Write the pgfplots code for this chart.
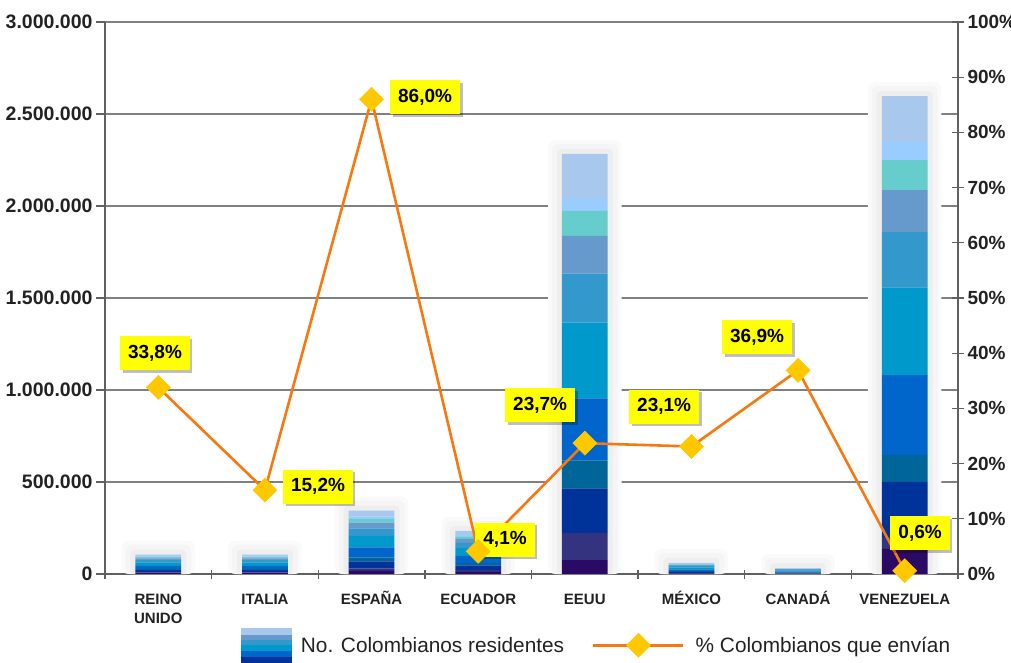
\documentclass[border=0pt]{standalone}
\usepackage{pgfplots}
\pgfplotsset{compat=1.18}
\usepackage{pgfplotstable}
\usepackage{fontspec}
\setmainfont{Liberation Sans}
\usetikzlibrary{shadows}
\definecolor{c1}{HTML}{2B0A66}
\definecolor{c2}{HTML}{33337F}
\definecolor{c3}{HTML}{003399}
\definecolor{c4}{HTML}{006699}
\definecolor{c5}{HTML}{0066CC}
\definecolor{c6}{HTML}{0099CC}
\definecolor{c7}{HTML}{3399CC}
\definecolor{c8}{HTML}{6699CC}
\definecolor{c9}{HTML}{66CCCC}
\definecolor{c10}{HTML}{99CCFF}
\definecolor{c11}{HTML}{A8C8EE}
\definecolor{gridc}{HTML}{808080}
\definecolor{axc}{HTML}{606060}
\definecolor{txtc}{HTML}{222222}
\definecolor{lineor}{HTML}{F7780F}
\definecolor{diam}{HTML}{FFC800}
\definecolor{labY}{HTML}{FFFF00}

\pgfplotstableread{
x c1 c2 c3 c4 c5 c6 c7 c8 c9 c10 c11 ga gb gc
0 5250 4200 11550 6300 16800 18900 12600 9450 6300 3675 9975 181000 159000 132000
1 5250 4200 11550 6300 16800 18900 12600 9450 6300 3675 9975 181000 159000 132000
2 17250 13800 37950 20700 55200 62100 41400 31050 20700 12075 32775 421000 399000 372000
3 11750 9400 25850 14100 37600 42300 28200 21150 14100 8225 22325 311000 289000 262000
4 76000 146000 244000 152000 336000 412000 266000 206000 136000 65000 244000 2359000 2337000 2310000
5 3000 2400 6600 3600 9600 10800 7200 5400 3600 2100 5700 136000 114000 87000
6 1600 1280 3520 1920 5120 5760 3840 2880 1920 1120 3040 108000 86000 59000
7 136000 65000 300000 146000 434000 477000 300000 228000 163000 98000 250000 2673000 2651000 2624000
}\bars

\pgfplotstableread{
x p
0 33.8
1 15.2
2 86.0
3 4.1
4 23.7
5 23.1
6 36.9
7 0.6
}\pct

\tikzset{lab/.style={fill=labY, text=black, font=\bfseries\fontsize{19}{19}\selectfont,
  inner xsep=8pt, inner ysep=5pt, minimum height=34pt,
  drop shadow={shadow xshift=2.5pt, shadow yshift=-2.5pt, fill=black, opacity=0.25}}}

\pgfplotsset{longline/.style={legend image code/.code={\draw[mark repeat=2,mark phase=2,##1] plot coordinates {(0pt,0pt) (45pt,0pt) (90pt,0pt)};\path (99pt,0pt);}}}

\begin{document}
\begin{tikzpicture}[x=1pt,y=1pt]
\useasboundingbox (-105,-88) rectangle (906,574);
\pgfplotsset{every axis/.append style={width=853pt, height=552pt, scale only axis,
  at={(0,0)}, anchor=south west, xmin=-0.5, xmax=7.5}}
% axis 1: grid, left axis, categories, glow
\begin{axis}[
  ymin=0, ymax=3000000,
  scaled y ticks=false,
  axis x line*=bottom, axis y line*=left,
  axis line style={axc, line width=1.5pt},
  ytick={0,500000,1000000,1500000,2000000,2500000,3000000},
  yticklabels={0,500.000,1.000.000,1.500.000,2.000.000,2.500.000,3.000.000},
  ymajorgrids, grid style={gridc, line width=1.3pt},
  ytick align=outside, xtick align=center,
  major tick length=9pt,
  tick style={axc, line width=1.3pt},
  yticklabel style={font=\bfseries\fontsize{19.5}{19.5}\selectfont, text=txtc},
  xtick={-0.5,0.5,1.5,2.5,3.5,4.5,5.5,6.5,7.5},
  x tick label as interval,
  xticklabels={{\vphantom{ÑÉ}REINO\\UNIDO},\vphantom{ÑÉ}ITALIA,\vphantom{ÑÉ}ESPAÑA,\vphantom{ÑÉ}ECUADOR,\vphantom{ÑÉ}EEUU,\vphantom{ÑÉ}MÉXICO,\vphantom{ÑÉ}CANADÁ,\vphantom{ÑÉ}VENEZUELA},
  xticklabel style={font=\bfseries\fontsize{15}{19}\selectfont, text=txtc, align=center, anchor=north, yshift=-9pt},
]
\addplot[ybar, bar width=0.69, bar shift=0pt, fill=gray!4, draw=none, rounded corners=7pt] table[x=x,y=ga]{\bars};
\addplot[ybar, bar width=0.62, bar shift=0pt, fill=gray!8, draw=none, rounded corners=6pt] table[x=x,y=gb]{\bars};
\addplot[ybar, bar width=0.525, bar shift=0pt, fill=gray!13, draw=none, rounded corners=4pt] table[x=x,y=gc]{\bars};
\end{axis}
% axis 2: stacked bars
\begin{axis}[
  ymin=0, ymax=3000000, hide axis,
  ybar stacked, bar width=0.43,
]
\addplot[fill=c1, draw=none] table[x=x,y=c1]{\bars};
\addplot[fill=c2, draw=none] table[x=x,y=c2]{\bars};
\addplot[fill=c3, draw=none] table[x=x,y=c3]{\bars};
\addplot[fill=c4, draw=none] table[x=x,y=c4]{\bars};
\addplot[fill=c5, draw=none] table[x=x,y=c5]{\bars};
\addplot[fill=c6, draw=none] table[x=x,y=c6]{\bars};
\addplot[fill=c7, draw=none] table[x=x,y=c7]{\bars};
\addplot[fill=c8, draw=none] table[x=x,y=c8]{\bars};
\addplot[fill=c9, draw=none] table[x=x,y=c9]{\bars};
\addplot[fill=c10, draw=none] table[x=x,y=c10]{\bars};
\addplot[fill=c11, draw=none] table[x=x,y=c11]{\bars};
\end{axis}
% axis 3: percentages
\begin{axis}[
  ymin=0, ymax=100, clip=false,
  axis x line=none, axis y line*=right,
  axis line style={axc, line width=1.5pt},
  ytick={0,10,20,30,40,50,60,70,80,90,100},
  yticklabels={0\%,10\%,20\%,30\%,40\%,50\%,60\%,70\%,80\%,90\%,100\%},
  ytick align=center, major tick length=12pt,
  tick style={axc, line width=1.3pt},
  yticklabel style={font=\bfseries\fontsize{19}{19}\selectfont, text=txtc},
  legend style={at={(0.576,-0.129)}, anchor=center, draw=none, fill=none,
    font=\fontsize{20.8}{22}\selectfont, text=txtc,
    /tikz/every even column/.append style={column sep=26pt}},
  legend columns=2,
]
\addlegendimage{legend image code/.code={
  \fill[c3] (0pt,-17pt) rectangle (50pt,-11pt);
  \fill[c5] (0pt,-11pt) rectangle (50pt,-5pt);
  \fill[c6] (0pt,-5pt) rectangle (50pt,1pt);
  \fill[c7] (0pt,1pt) rectangle (50pt,6pt);
  \fill[c8] (0pt,6pt) rectangle (50pt,11pt);
  \fill[c11] (0pt,11pt) rectangle (50pt,17pt);
  \path (58pt,0pt);
}}
\addlegendentry{No. Colombianos residentes}
\addplot[lineor, line width=2.6pt, mark=square*, mark size=8.5pt,
  mark options={rotate=45, fill=diam, draw=diam, line width=0.5pt, solid},
  longline
] table[x=x,y=p]{\pct};
\addlegendentry{\% Colombianos que envían}
\node[lab] at (axis cs:-0.031,40.0) {33,8\%};
\node[lab] at (axis cs:1.498,15.8) {15,2\%};
\node[lab] at (axis cs:2.502,86.4) {86,0\%};
\node[lab] at (axis cs:3.252,6.2) {4,1\%};
\node[lab] at (axis cs:3.581,30.6) {23,7\%};
\node[lab] at (axis cs:4.744,30.3) {23,1\%};
\node[lab] at (axis cs:5.616,42.9) {36,9\%};
\node[lab] at (axis cs:7.145,7.4) {0,6\%};
\end{axis}
\end{tikzpicture}
\end{document}
